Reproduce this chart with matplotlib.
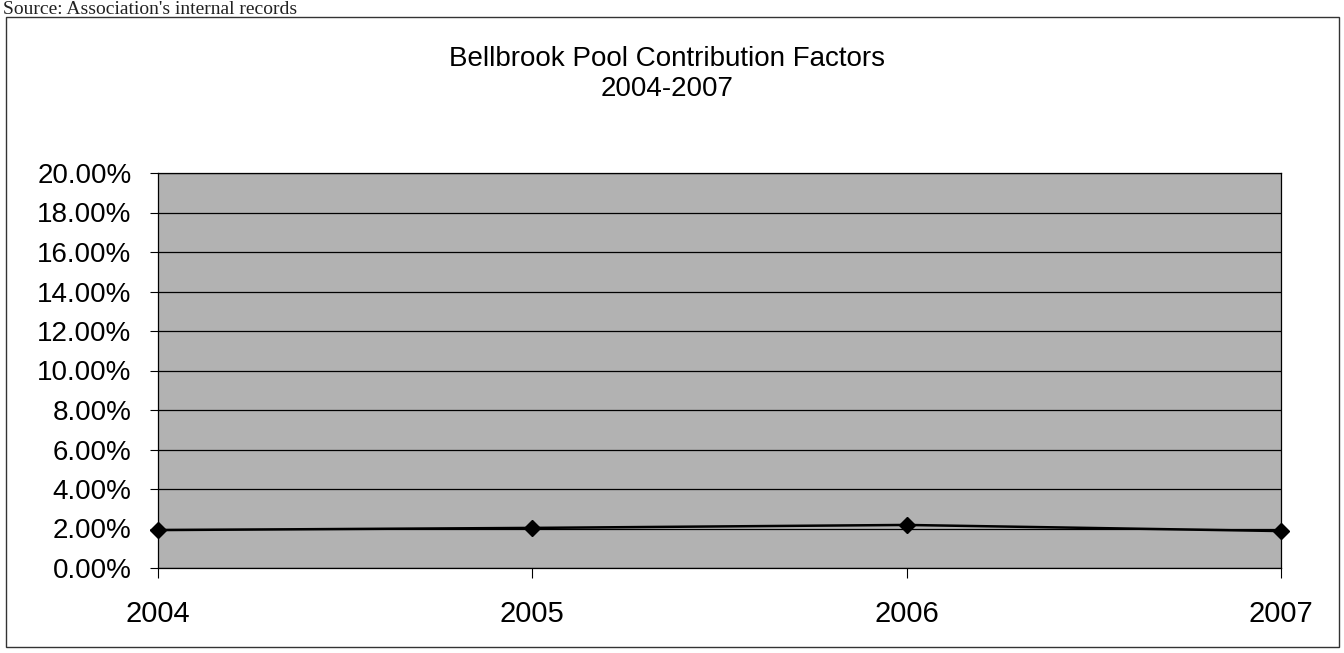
import matplotlib.pyplot as plt
from matplotlib.patches import Rectangle
from matplotlib.ticker import FuncFormatter

years = ['2004', '2005', '2006', '2007']
factors = [1.92, 2.03, 2.18, 1.87]
yticks = [0, 2, 4, 6, 8, 10, 12, 14, 16, 18, 20]

plt.rcParams['font.family'] = ['Liberation Sans', 'DejaVu Sans']

fig = plt.figure(figsize=(13.44, 6.53), dpi=100)
W, H = 1344, 653

# outer chart border
fig.patches.append(Rectangle((6 / W, 6 / H), 1333 / W, 630 / H, transform=fig.transFigure,
                             fill=False, edgecolor='#333333', linewidth=1.0))
# source note above the chart box
fig.text(3 / W, 1 - 14 / H, "Source: Association's internal records", family='Liberation Serif',
         fontsize=14, va='baseline', ha='left', color='#222222')

ax = fig.add_axes([158 / W, 1 - 568 / H, (1281 - 158) / W, (568 - 173) / H])
ax.set_facecolor('#b2b2b2')

x = list(range(len(years)))
ax.plot(x, factors, color='black', linewidth=1.8, marker='D', markersize=8, clip_on=False, zorder=5)

ax.set_xlim(0, 3)
ax.set_ylim(0, 20)
ax.set_yticks(yticks)
ax.yaxis.set_major_formatter(FuncFormatter(lambda v, p: f'{v:.2f}%'))
ax.grid(axis='y', color='black', linewidth=0.9)
ax.set_axisbelow(True)
ax.set_xticks(x)
ax.set_xticklabels(years)
ax.tick_params(axis='y', labelsize=20, length=6, width=0.8, pad=13)
ax.tick_params(axis='x', labelsize=21, length=7, width=0.8, pad=16)
for s in ax.spines.values():
    s.set_linewidth(0.9)
    s.set_color('black')

fig.text(667 / W, 1 - 74 / H, 'Bellbrook Pool Contribution Factors\n2004-2007',
         ha='center', va='center', fontsize=20, linespacing=1.15)

fig.savefig('out.png', dpi=100)
